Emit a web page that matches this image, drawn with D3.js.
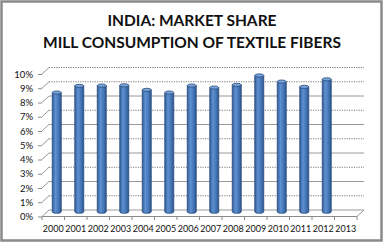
<!DOCTYPE html>
<html><head><meta charset="utf-8">
<script src="https://cdn.jsdelivr.net/npm/d3@7"></script>
<style>
html,body{margin:0;padding:0;background:#fff;}
svg{display:block;}
</style></head>
<body>
<script>
const years = ["2000","2001","2002","2003","2004","2005","2006","2007","2008","2009","2010","2011","2012","2013"];
const share = [0.0847,0.0894,0.0896,0.0898,0.0866,0.0847,0.0896,0.0882,0.0901,0.0967,0.0924,0.0887,0.0940,null];
const yTicks = [0,0.01,0.02,0.03,0.04,0.05,0.06,0.07,0.08,0.09,0.10];
const titleLines = ["INDIA: MARKET SHARE","MILL CONSUMPTION OF TEXTILE FIBERS"];

const W = 384, H = 244;
const svg = d3.select("body").append("svg").attr("width", W).attr("height", H);

// frame
svg.append("rect").attr("x",1.5).attr("y",1.5).attr("width",380).attr("height",239)
  .attr("fill","#fff").attr("stroke","#8a8a8a").attr("stroke-width",2.5);

// title
svg.selectAll("text.title").data(titleLines).join("text")
  .attr("class","title")
  .attr("x",192).attr("y",(d,i)=>26+i*22)
  .attr("text-anchor","middle")
  .attr("font-family","Lato, 'Open Sans', sans-serif")
  .attr("font-weight","bold").attr("font-size",15.5)
  .attr("fill","#111")
  .text(d=>d);

// geometry (front plane + depth offset)
const x0 = 42, x1 = 357, depthX = 7, depthY = -6.5;
const x = d3.scaleBand().domain(years).range([x0, x1]);
const y = d3.scaleLinear().domain([0,0.10]).range([216.5, 74]);

// back wall gridlines
const grid = svg.append("g");
grid.selectAll("line.grid").data(yTicks).join("line")
  .attr("x1", x0+depthX).attr("x2", x1+depthX)
  .attr("y1", d=>y(d)+depthY).attr("y2", d=>y(d)+depthY)
  .attr("stroke", (d,i)=> i%2===0 && i<10 ? "#9a9a9a" : "#7a7a7a")
  .attr("stroke-width", (d,i)=> i%2===0 && i<10 ? 1 : 1.2)
  .attr("stroke-dasharray", (d,i)=> i%2===0 && i<10 ? null : "1.2,1.2");

// left wall depth edges (slanted tick extensions)
grid.selectAll("line.side").data(yTicks).join("line")
  .attr("x1", x0).attr("x2", x0+depthX)
  .attr("y1", d=>y(d)).attr("y2", d=>y(d)+depthY)
  .attr("stroke","#8a8a8a").attr("stroke-width",0.9);

// floor edges
svg.append("line").attr("x1",x0).attr("x2",x1).attr("y1",y(0)).attr("y2",y(0))
  .attr("stroke","#8a8a8a").attr("stroke-width",1);
svg.append("line").attr("x1",x1).attr("x2",x1+depthX).attr("y1",y(0)).attr("y2",y(0)+depthY)
  .attr("stroke","#8a8a8a").attr("stroke-width",0.9);

// y axis via d3 axis
const yAxis = d3.axisLeft(y).tickValues(yTicks).tickFormat(d3.format(".0%")).tickSize(4).tickPadding(5);
const ya = svg.append("g").attr("transform",`translate(${x0},0)`).call(yAxis);
ya.select(".domain").remove();
ya.selectAll(".tick line").attr("stroke","#8a8a8a");
ya.selectAll(".tick text").attr("font-family","Lato, sans-serif").attr("font-size",9.5).attr("fill","#111");

// x axis
const xAxis = d3.axisBottom(x).tickSize(0).tickPadding(9);
const xa = svg.append("g").attr("transform",`translate(0,${y(0)})`).call(xAxis);
xa.select(".domain").remove();
xa.selectAll(".tick text").attr("font-family","Lato, sans-serif").attr("font-size",9).attr("fill","#111");
// category boundary ticks
svg.selectAll("line.xt").data(years.slice(0).concat(["__end"])).join("line")
  .attr("x1",(d,i)=>x0+i*x.step()).attr("x2",(d,i)=>x0+i*x.step())
  .attr("y1",y(0)).attr("y2",y(0)+3.5)
  .attr("stroke","#8a8a8a");

// cylinder gradient
const defs = svg.append("defs");
const g = defs.append("linearGradient").attr("id","cyl").attr("x1","0%").attr("x2","100%");
g.append("stop").attr("offset","0%").attr("stop-color","#2f5c98");
g.append("stop").attr("offset","35%").attr("stop-color","#5f90d0");
g.append("stop").attr("offset","60%").attr("stop-color","#4c7fc0");
g.append("stop").attr("offset","100%").attr("stop-color","#2c5790");

const bw = 9, ry = 1.6;
const mid = {dx: depthX/2, dy: depthY/2};
const data = years.map((d,i)=>({year:d, v:share[i]})).filter(d=>d.v!=null);
const bars = svg.append("g").selectAll("g.bar").data(data).join("g").attr("class","bar");
bars.each(function(d){
  const cx = x(d.year) + x.bandwidth()/2 + mid.dx;
  const yb = y(0) + mid.dy - 1.5;
  const yt = y(d.v) + mid.dy;
  const sel = d3.select(this);
  const path = `M${cx-bw/2},${yt} L${cx-bw/2},${yb} A${bw/2},${ry} 0 0 0 ${cx+bw/2},${yb} L${cx+bw/2},${yt} Z`;
  sel.append("path").attr("d",path).attr("fill","url(#cyl)")
    .attr("stroke","#274a78").attr("stroke-width",0.8);
  sel.append("ellipse").attr("cx",cx).attr("cy",yt).attr("rx",bw/2).attr("ry",ry)
    .attr("fill","#7aa4dc").attr("stroke","#274a78").attr("stroke-width",0.8);
});
</script>
</body></html>
